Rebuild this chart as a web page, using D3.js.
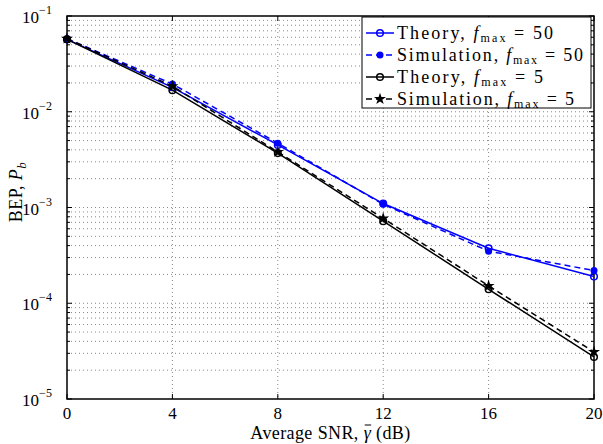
<!DOCTYPE html>
<html lang="en">
<head>
<meta charset="UTF-8">
<title>BEP vs SNR</title>
<script src="https://d3js.org/d3.v7.min.js"></script>
<style>
  body { margin: 0; background: #fff; }
</style>
</head>
<body>
<svg width="603" height="444" id="chart" font-family="'Liberation Serif', 'Times New Roman', Times, 'DejaVu Serif', serif"></svg>
<script>
// average SNR (dB)
var snr = [0, 4, 8, 12, 16, 20];
// BEP values
var theory50 = [0.057, 0.0180, 0.0045, 0.00110, 0.000375, 0.000190];
var sim50    = [0.058, 0.0195, 0.0047, 0.00108, 0.000350, 0.000220];
var theory5  = [0.057, 0.0168, 0.0037, 0.00072, 0.000140, 0.0000275];
var sim5     = [0.058, 0.0185, 0.0038, 0.00077, 0.000152, 0.0000310];
var xTicks = [0, 4, 8, 12, 16, 20];
var yExps = [-5, -4, -3, -2, -1];

var series = [
  {name: "Theory, ", val: "50", data: theory50, color: "#0000ff", dash: null, mark: "circle"},
  {name: "Simulation, ", val: "50", data: sim50, color: "#0000ff", dash: "6,4", mark: "dot"},
  {name: "Theory, ", val: "5", data: theory5, color: "#000", dash: null, mark: "circle"},
  {name: "Simulation, ", val: "5", data: sim5, color: "#000", dash: "6,4", mark: "star"}
];

var svg = d3.select("#chart"),
    margin = {top: 16, right: 9, bottom: 45, left: 67},
    width = 603 - margin.left - margin.right,
    height = 444 - margin.top - margin.bottom;

var g = svg.append("g").attr("transform", "translate(" + margin.left + "," + margin.top + ")");

var x = d3.scaleLinear().domain([0, 20]).range([0, width]);
var y = d3.scaleLog().domain([1e-5, 1e-1]).range([height, 0]);

// grid (dotted), major x + minor log y
var gridColor = "#888";
g.append("g").selectAll("line")
  .data(xTicks.slice(1, -1))
  .join("line")
  .attr("x1", d => x(d)).attr("x2", d => x(d))
  .attr("y1", 0).attr("y2", height)
  .attr("stroke", gridColor).attr("stroke-dasharray", "1,3");

var yMinor = [];
yExps.slice(0, -1).forEach(function (e) {
  for (var k = 1; k <= 9; k++) yMinor.push(k * Math.pow(10, e));
});
yMinor.push(1e-1);
g.append("g").selectAll("line")
  .data(yMinor.filter(d => d > 1.01e-5 && d < 0.099))
  .join("line")
  .attr("x1", 0).attr("x2", width)
  .attr("y1", d => y(d)).attr("y2", d => y(d))
  .attr("stroke", gridColor).attr("stroke-dasharray", "1,3");

// axes box
g.append("rect").attr("width", width).attr("height", height)
  .attr("fill", "none").attr("stroke", "#000").attr("stroke-width", 1.5);

// inward ticks
var tickG = g.append("g").attr("stroke", "#000");
xTicks.forEach(function (t) {
  tickG.append("line").attr("x1", x(t)).attr("x2", x(t)).attr("y1", height).attr("y2", height - 5);
  tickG.append("line").attr("x1", x(t)).attr("x2", x(t)).attr("y1", 0).attr("y2", 5);
});
yMinor.forEach(function (v) {
  var isMajor = Math.abs(Math.log10(v) - Math.round(Math.log10(v))) < 1e-9;
  var len = isMajor ? 5 : 3;
  tickG.append("line").attr("x1", 0).attr("x2", len).attr("y1", y(v)).attr("y2", y(v));
  tickG.append("line").attr("x1", width).attr("x2", width - len).attr("y1", y(v)).attr("y2", y(v));
});

// tick labels
g.append("g").selectAll("text")
  .data(xTicks)
  .join("text")
  .attr("x", d => x(d)).attr("y", height + 20)
  .attr("text-anchor", "middle")
  .attr("font-size", 17)
  .text(d => d);

var yl = g.append("g").selectAll("text")
  .data(yExps)
  .join("text")
  .attr("x", -30).attr("y", d => y(Math.pow(10, d)) + 7)
  .attr("text-anchor", "middle")
  .attr("font-size", 17);
yl.append("tspan").text("10");
yl.append("tspan").attr("dy", -9).attr("font-size", 12).text(d => "\u2212" + Math.abs(d));

// lines + markers
var line = d3.line().x((d, i) => x(snr[i])).y(d => y(d));
var star = d3.symbol().type(d3.symbolStar).size(45);

function drawMarker(sel, s, cx, cy) {
  if (s.mark === "circle") {
    sel.append("circle").attr("cx", cx).attr("cy", cy).attr("r", 3.3)
      .attr("fill", "none").attr("stroke", s.color).attr("stroke-width", 1.5);
  } else if (s.mark === "dot") {
    sel.append("circle").attr("cx", cx).attr("cy", cy).attr("r", 3.5).attr("fill", s.color);
  } else {
    sel.append("path").attr("d", star).attr("transform", "translate(" + cx + "," + cy + ")")
      .attr("fill", s.color);
  }
}

series.forEach(function (s) {
  g.append("path").datum(s.data)
    .attr("d", line)
    .attr("fill", "none").attr("stroke", s.color).attr("stroke-width", 1.5)
    .attr("stroke-dasharray", s.dash);
  var mg = g.append("g");
  s.data.forEach(function (v, i) { drawMarker(mg, s, x(snr[i]), y(v)); });
});

// legend
var lx = 362 - margin.left, ly = 1, lw = 229, lh = 91;
var legendWidths = [156, 186, 146, 177];
var leg = g.append("g");
leg.append("rect").attr("x", lx).attr("y", ly).attr("width", lw).attr("height", lh)
  .attr("fill", "#fff").attr("stroke", "#000").attr("stroke-width", 1);
series.forEach(function (s, i) {
  var cy = ly + 16 + i * 22;
  leg.append("line").attr("x1", lx + 4).attr("x2", lx + 32).attr("y1", cy).attr("y2", cy)
    .attr("stroke", s.color).attr("stroke-width", 1.5).attr("stroke-dasharray", s.dash);
  drawMarker(leg, s, lx + 18, cy);
  var t = leg.append("text").attr("x", lx + 35).attr("y", cy + 6)
    .attr("font-size", 18)
    .attr("textLength", legendWidths[i]).attr("lengthAdjust", "spacing");
  t.append("tspan").text(s.name);
  t.append("tspan").attr("font-style", "italic").text("f");
  t.append("tspan").attr("dy", 3).attr("font-size", 12).text("max");
  t.append("tspan").attr("dy", -3).text(" = " + s.val);
});

// axis labels
var xl = svg.append("text")
  .attr("x", margin.left + width / 2).attr("y", 439)
  .attr("text-anchor", "middle").attr("font-size", 18).attr("letter-spacing", 0.4);
xl.append("tspan").text("Average SNR, ");
xl.append("tspan").attr("font-style", "italic").text("\u03b3");
xl.append("tspan").text(" (dB)");
// overline on gamma
var gb = xl.node().getExtentOfChar(13);
svg.append("line")
  .attr("x1", gb.x + 1).attr("x2", gb.x + gb.width)
  .attr("y1", gb.y + 2).attr("y2", gb.y + 2)
  .attr("stroke", "#000").attr("stroke-width", 1);

var ylab = svg.append("text")
  .attr("transform", "translate(22,192) rotate(-90)")
  .attr("text-anchor", "middle").attr("font-size", 18).attr("letter-spacing", 0.4);
ylab.append("tspan").text("BEP, ");
ylab.append("tspan").attr("font-style", "italic").text("P");
ylab.append("tspan").attr("dy", 4).attr("font-size", 13).attr("font-style", "italic").text("b");
</script>
</body>
</html>
